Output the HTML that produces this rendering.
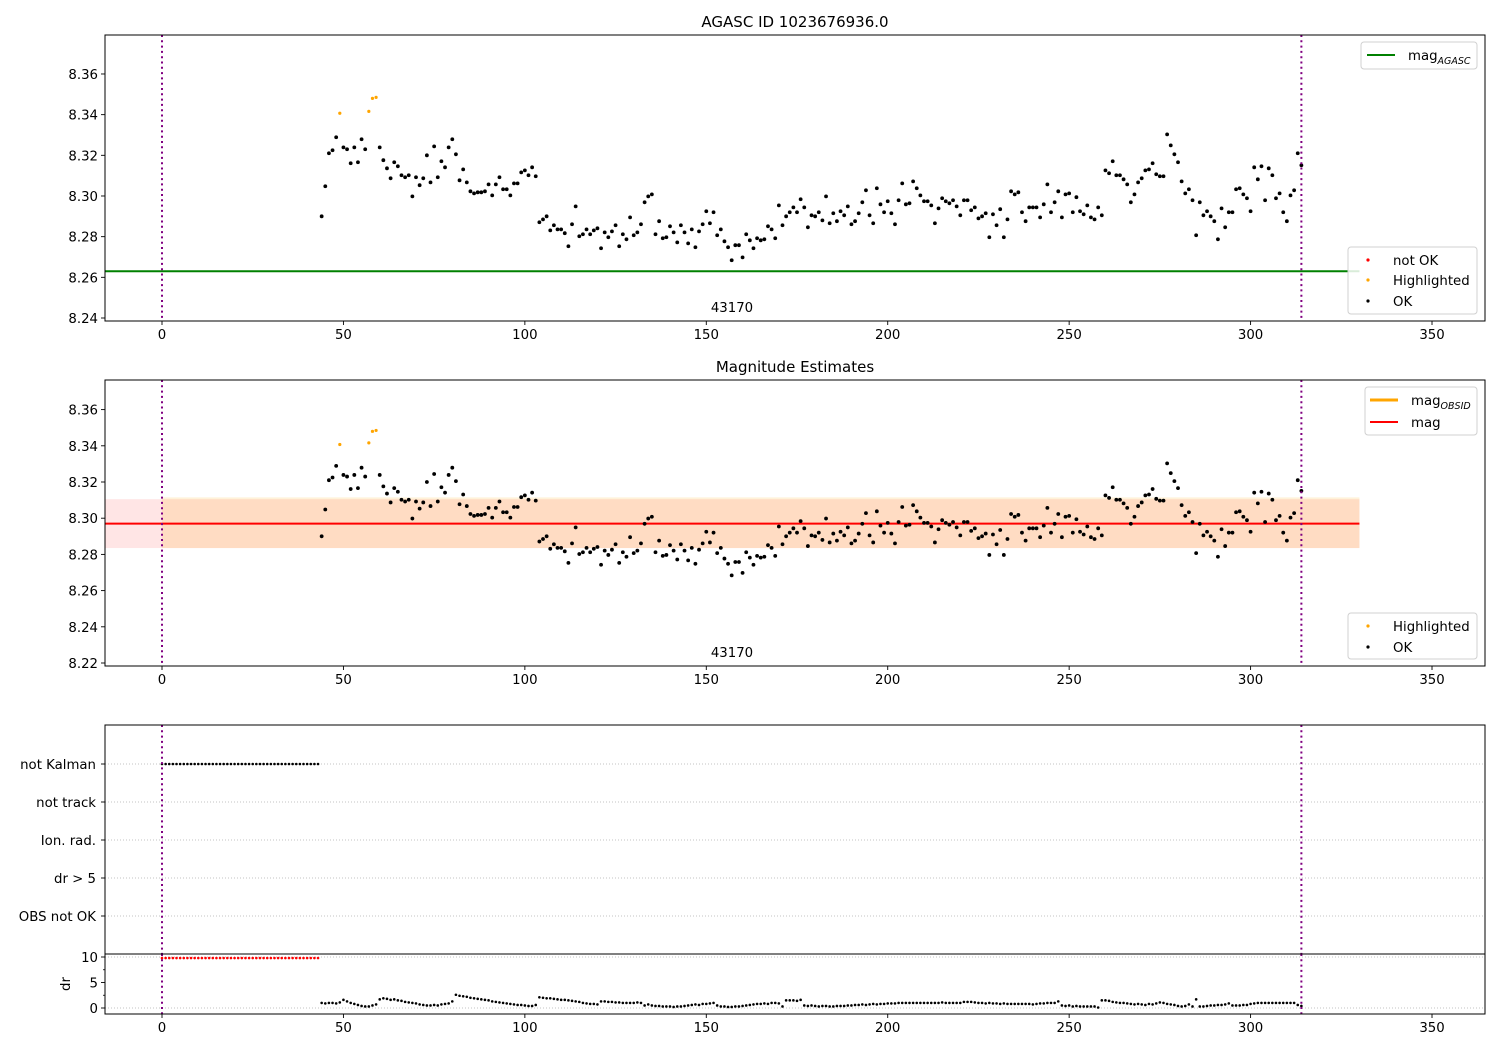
<!DOCTYPE html>
<html><head><meta charset="utf-8"><style>
html,body{margin:0;padding:0;background:#fff}
svg{display:block;font-family:"DejaVu Sans","Liberation Sans",sans-serif}
</style></head><body>
<svg id="chart" width="1500" height="1050" viewBox="0 0 1500 1050" xmlns="http://www.w3.org/2000/svg">
<rect width="1500" height="1050" fill="#fff"/>
<text x="795" y="27" text-anchor="middle" font-size="15">AGASC ID 1023676936.0</text>
<text x="795" y="372" text-anchor="middle" font-size="15">Magnitude Estimates</text>
</svg>
<script>
const obsStart = 44;
const magValues = [
8.2900,8.3048,8.3210,8.3225,8.3289,8.3407,8.3239,8.3230,8.3161,8.3239,
8.3166,8.3279,8.3230,8.3416,8.3480,8.3485,8.3239,8.3176,8.3136,8.3087,
8.3166,8.3146,8.3102,8.3092,8.3102,8.2998,8.3092,8.3053,8.3087,8.3200,
8.3067,8.3244,8.3092,8.3171,8.3141,8.3239,8.3279,8.3205,8.3077,8.3131,
8.3067,8.3023,8.3013,8.3018,8.3018,8.3023,8.3057,8.3003,8.3057,8.3092,
8.3033,8.3033,8.3003,8.3062,8.3062,8.3116,8.3126,8.3102,8.3141,8.3097,
8.2871,8.2885,8.2900,8.2831,8.2856,8.2836,
8.2836,8.2817,8.2753,8.2861,8.2949,8.2802,8.2812,8.2836,8.2812,8.2831,
8.2841,8.2743,8.2821,8.2797,8.2826,8.2856,8.2753,8.2812,8.2787,8.2895,
8.2807,8.2821,8.2861,8.2969,8.2998,8.3008,8.2812,8.2876,8.2792,8.2797,
8.2851,8.2821,8.2772,8.2856,8.2821,8.2767,8.2836,8.2748,8.2826,8.2861,
8.2925,8.2866,8.2920,8.2807,8.2836,8.2777,8.2748,8.2684,8.2758,8.2758,
8.2698,8.2812,8.2782,8.2743,8.2792,8.2782,8.2787,8.2851,8.2836,8.2792,
8.2954,8.2856,8.2900,8.2920,8.2944,8.2920,
8.2984,8.2944,8.2846,8.2905,8.2900,8.2920,8.2880,8.2998,8.2866,8.2915,
8.2876,8.2925,8.2905,8.2949,8.2861,8.2876,8.2915,8.2969,8.3028,8.2905,
8.2866,8.3038,8.2959,8.2920,8.2974,8.2915,8.2861,8.2979,8.3062,8.2959,
8.2964,8.3072,8.3038,8.3003,8.2974,8.2974,8.2954,8.2866,8.2939,8.2989,
8.2974,8.2964,8.2979,8.2949,8.2905,8.2979,8.2979,8.2930,8.2944,8.2890,
8.2900,8.2915,8.2797,8.2910,8.2856,8.2935,8.2797,8.2885,8.3023,8.3008,
8.3018,8.2920,8.2876,8.2944,8.2944,8.2944,
8.2895,8.2959,8.3057,8.2920,8.2969,8.3023,8.2895,8.3008,8.3013,8.2920,
8.2994,8.2925,8.2910,8.2954,8.2895,8.2885,8.2944,8.2905,8.3126,8.3112,
8.3171,8.3102,8.3102,8.3082,8.3057,8.2969,8.3008,8.3067,8.3087,8.3126,
8.3131,8.3161,8.3107,8.3097,8.3097,8.3303,8.3249,8.3205,8.3166,8.3072,
8.3013,8.3033,8.2979,8.2807,8.2969,8.2905,8.2925,8.2900,8.2876,8.2787,
8.2939,8.2846,8.2920,8.2920,8.3033,8.3038,8.3008,8.2989,8.2925,8.3141,
8.3082,8.3146,8.2979,8.3136,8.3102,8.2989,8.3013,8.2920,8.2876,8.3003,
8.3028,8.3210,8.3151];
const highlightedObs = [49,57,58,59];
const drValues = [
1.0,0.9,1.0,1.0,0.9,1.1, 1.6,1.3,1.0,0.8,0.6,0.4, 0.3,0.3,0.5,0.7, 1.7,1.9,1.8,1.6,1.7,
1.5,1.4,1.2,1.1,1.0,0.9, 0.7,0.6,0.5,0.5,0.6,0.5,0.7,0.8,0.9,1.3,
2.6,2.4,2.3,2.2,2.0,1.9,1.8,1.7,1.6,1.5,
1.3,1.2,1.1,1.0,0.9,0.8,0.7,0.6,0.6,0.5,0.4,0.4,0.6,
2.1,2.0,1.9,1.9,1.8,1.7,1.6,1.6,1.5,1.4,1.3,1.2, 1.0,0.9,0.8,0.8,0.7,
1.3,1.3,1.2,1.2,1.1,1.1,1.0,1.0,1.0,1.0,1.1,1.0,
0.5,0.7,0.5,0.4,0.4,0.3,0.3,0.3,0.2,0.3,0.3,0.4,0.5,
0.6,0.7,0.6,0.8,0.8,0.9,1.0,0.5,0.3,0.3,0.2,0.2,0.3,
0.3,0.4,0.5,0.6,0.7,0.8,0.8,0.9,0.8,1.0,1.0,0.9,0.3,
1.5,1.5,1.5,1.4,1.6,
0.5,0.4,0.5,0.4,0.3,0.4,0.4,0.3,0.3,0.4,0.4,0.4,0.5,0.5,0.6,
0.6,0.7,0.6,0.7,0.8,0.7,0.8,0.8,0.9,
0.9,0.9,1.0,1.0,1.0,1.0,1.0,1.0,1.0,1.0,1.0,1.0,1.0,1.0,1.1,1.0,1.0,1.0,1.0,1.0,
1.2,1.2,1.2,1.1,1.0,1.0,0.9,1.0,0.9,0.9,0.8,0.9,0.8,
0.8,0.8,0.8,0.8,0.8,0.8,0.7,0.8,0.9,0.9,1.0,1.0,1.0,1.3,
0.5,0.4,0.5,0.3,0.4,0.3,0.3,0.3,0.3,0.3,0.1,
1.5,1.5,1.4,1.2,1.1,1.0,1.0,0.9,0.8,0.7,0.8,0.7,
0.6,0.8,0.7,0.9,1.1,1.0,0.8,0.7,0.6,0.4,0.3,0.4,0.7,0.3,
1.7,
0.3,0.3,0.4,0.5,0.5,0.6,0.6,0.7,0.9,0.5,0.5,0.5,0.6,0.6,
0.8,0.9,1.0,1.0,1.0,1.0,1.0,1.0,1.0,1.0,1.0,1.0,1.0,0.6,
0.4];
const failDrValues = [9.8,9.8,9.8,9.8,9.8,9.8,9.8,9.8,9.8,9.8,9.8,9.8,9.8,9.8,9.8,9.8,9.8,9.8,9.8,9.8,9.8,9.8,9.8,9.8,9.8,9.8,9.8,9.8,9.8,9.8,9.8,9.8,9.8,9.8,9.8,9.8,9.8,9.8,9.8,9.8,9.8,9.8,9.8,9.8];
const notKalmanCount = 44;
const categories = ["not Kalman","not track","Ion. rad.","dr > 5","OBS not OK"];
const xTicks = [0,50,100,150,200,250,300,350];
const yTicks1 = [8.24,8.26,8.28,8.30,8.32,8.34,8.36];
const yTicks2 = [8.22,8.24,8.26,8.28,8.30,8.32,8.34,8.36];
const drTicks = [0,5,10];
const magAgasc = 8.263;
const magMean = 8.297;
const magBandLow = 8.2835;
const magBandHigh = 8.3105;
const magObsLow = 8.2835;
const magObsHigh = 8.3115;
const lastObs = 314;
const lineEnd = 330;
const obsidLabel = "43170";

const svg = document.getElementById('chart');
const NS = 'http://www.w3.org/2000/svg';
function el(tag, attrs, parent) {
  const e = document.createElementNS(NS, tag);
  for (const k in attrs) e.setAttribute(k, attrs[k]);
  (parent || svg).appendChild(e);
  return e;
}
const L = 105, R = 1485;
const xs = v => 162 + v * 3.6286;
const y1 = v => 318 - (v - 8.24) * 2033.5;
const y2 = v => 663 - (v - 8.22) * 1810;
const yd = v => 1008 - v * 5.1;
const catY = [764, 802, 840, 878, 916];

function clipFor(id, top, bot) {
  const cp = el('clipPath', {id: id});
  el('rect', {x: L, y: top, width: R - L, height: bot - top}, cp);
}
clipFor('c1', 35, 321); clipFor('c2', 380, 666); clipFor('c3', 725, 954); clipFor('c4', 954, 1014);

function xAxis(bot, withLabels) {
  xTicks.forEach(t => {
    const tk = el('line', {x1: xs(t), x2: xs(t), y1: bot, y2: bot + 4, stroke: '#000', 'stroke-width': 0.9});
    
    
    if (withLabels) {
      const tx = el('text', {x: xs(t), y: bot + 18, 'text-anchor': 'middle', 'font-size': 13.3});
      tx.textContent = t;
      
      
    }
  });
}
function yAxis(ticks, ys, fmt) {
  ticks.forEach(t => {
    el('line', {x1: L - 4, x2: L, y1: ys(t), y2: ys(t), stroke: '#000', 'stroke-width': 0.9});
    const tx = el('text', {x: L - 7, y: ys(t) + 5, 'text-anchor': 'end', 'font-size': 13.3});
    tx.textContent = fmt(t);
    
    
  });
}
function vlines(top, bot, clip) {
  [0, lastObs].forEach(v => {
    const ln = el('line', {x1: xs(v), x2: xs(v), y1: top, y2: bot, stroke: '#800080', 'stroke-width': 2, 'stroke-dasharray': '2,3.3', 'clip-path': 'url(#' + clip + ')'});
    
    
  });
}
function dot(x, y, color, r, g) {
  const c = el('circle', {cx: x, cy: y, r: r, fill: color}, g);
  
  
}
function frame(top, bot, name) {
  const f = el('rect', {x: L, y: top, width: R - L, height: bot - top, fill: 'none', stroke: '#000', 'stroke-width': 1});
  
  
}

// Panel 1
(function () {
  const g = el('g', {'clip-path': 'url(#c1)'});
  
  
  const ln = el('line', {x1: L, x2: xs(lineEnd), y1: y1(magAgasc), y2: y1(magAgasc), stroke: 'green', 'stroke-width': 2}, g);
  
  
  magValues.forEach((v, i) => {
    const o = obsStart + i;
    dot(xs(o), y1(v), highlightedObs.includes(o) ? 'orange' : '#000', highlightedObs.includes(o) ? 1.6 : 1.9, g);
  });
  vlines(35, 321, 'c1');
  const t = el('text', {x: 732, y: 312, 'text-anchor': 'middle', 'font-size': 13.3});
  t.textContent = obsidLabel;
  
  
  frame(35, 321, 'agasc-panel-frame');
  xAxis(321, true);
  yAxis(yTicks1, y1, v => v.toFixed(2));
})();

// Panel 2
(function () {
  const g = el('g', {'clip-path': 'url(#c2)'});
  
  
  const b1 = el('rect', {x: L, y: y2(magBandHigh), width: xs(lineEnd) - L, height: y2(magBandLow) - y2(magBandHigh), fill: 'rgba(255,0,0,0.1)'}, g);
  
  
  const b2 = el('rect', {x: xs(0), y: y2(magObsHigh), width: xs(lineEnd) - xs(0), height: y2(magObsLow) - y2(magObsHigh), fill: 'rgba(255,165,0,0.15)'}, g);
  
  
  const ln = el('line', {x1: L, x2: xs(lineEnd), y1: y2(magMean), y2: y2(magMean), stroke: 'red', 'stroke-width': 2}, g);
  
  
  magValues.forEach((v, i) => {
    const o = obsStart + i;
    dot(xs(o), y2(v), highlightedObs.includes(o) ? 'orange' : '#000', highlightedObs.includes(o) ? 1.6 : 1.9, g);
  });
  vlines(380, 666, 'c2');
  const t = el('text', {x: 732, y: 657, 'text-anchor': 'middle', 'font-size': 13.3});
  t.textContent = obsidLabel;
  
  
  frame(380, 666, 'estimates-panel-frame');
  xAxis(666, true);
  yAxis(yTicks2, y2, v => v.toFixed(2));
})();

// Panel 3 flags
(function () {
  const g = el('g', {'clip-path': 'url(#c3)'});
  
  
  categories.forEach((c, i) => {
    const gl = el('line', {x1: L, x2: R, y1: catY[i], y2: catY[i], stroke: '#b0b0b0', 'stroke-width': 0.8, 'stroke-dasharray': '1,2'}, g);
    
    
    el('line', {x1: L - 4, x2: L, y1: catY[i], y2: catY[i], stroke: '#000', 'stroke-width': 0.9});
    const tx = el('text', {x: L - 9, y: catY[i] + 5, 'text-anchor': 'end', 'font-size': 13.3});
    tx.textContent = c;
    
    
  });
  for (let o = 0; o < notKalmanCount; o++) dot(xs(o), catY[0], '#000', 1.3, g);
  vlines(725, 954, 'c3');
  frame(725, 954, 'flags-panel-frame');
})();

// Panel 4 dr
(function () {
  const g = el('g', {'clip-path': 'url(#c4)'});
  
  
  [0, 10].forEach(v => {
    el('line', {x1: L, x2: R, y1: yd(v), y2: yd(v), stroke: '#b0b0b0', 'stroke-width': 0.8, 'stroke-dasharray': '1,2'}, g);
  });
  failDrValues.forEach((v, i) => dot(xs(i), yd(v), 'red', 1.3, g));
  drValues.forEach((v, i) => dot(xs(obsStart + i), yd(v), '#000', 1.3, g));
  vlines(954, 1014, 'c4');
  frame(954, 1014, 'dr-panel-frame');
  xAxis(1014, true);
  yAxis(drTicks, yd, v => String(v));
  [2.5, 7.5].forEach(v => el('line', {x1: L - 2, x2: L, y1: yd(v), y2: yd(v), stroke: '#000', 'stroke-width': 0.8}));
  const lbl = el('text', {x: 70, y: 984, 'text-anchor': 'middle', 'font-size': 13.3, transform: 'rotate(-90 70 984)'});
  lbl.textContent = 'dr';
  
  
})();

// Legends
function legendBox(x, y, w, h, name) {
  const g = el('g', {});
  
  
  el('rect', {x: x, y: y, width: w, height: h, rx: 3, fill: 'rgba(255,255,255,0.85)', stroke: '#d0d0d0', 'stroke-width': 1}, g);
  return g;
}
function legLine(g, x, y, color, label, sub, w) {
  el('line', {x1: x, x2: x + 28, y1: y, y2: y, stroke: color, 'stroke-width': w}, g);
  const t = el('text', {x: x + 41, y: y + 5, 'font-size': 13.3}, g);
  t.textContent = label;
  if (sub) {
    const s = el('tspan', {'font-size': 9.5, 'font-style': 'italic', dy: 4}, t);
    s.textContent = sub;
  }
  
  
}
function legDot(g, x, y, color, label) {
  el('circle', {cx: x + 18, cy: y, r: 1.6, fill: color}, g);
  const t = el('text', {x: x + 43, y: y + 5, 'font-size': 13.3}, g);
  t.textContent = label;
  
  
}
let g;
g = legendBox(1361, 42, 116, 27, 'agasc-line-legend');
legLine(g, 1367, 55, 'green', 'mag', 'AGASC', 2);
g = legendBox(1348, 247, 129, 67, 'agasc-status-legend');
legDot(g, 1350, 260, 'red', 'not OK');
legDot(g, 1350, 280, 'orange', 'Highlighted');
legDot(g, 1350, 301, '#000', 'OK');
g = legendBox(1365, 387, 112, 48, 'estimates-line-legend');
legLine(g, 1370, 400, 'orange', 'mag', 'OBSID', 3);
legLine(g, 1370, 422, 'red', 'mag', '', 2);
g = legendBox(1348, 613, 129, 46, 'estimates-status-legend');
legDot(g, 1350, 626, 'orange', 'Highlighted');
legDot(g, 1350, 647, '#000', 'OK');
</script>
</body></html>
